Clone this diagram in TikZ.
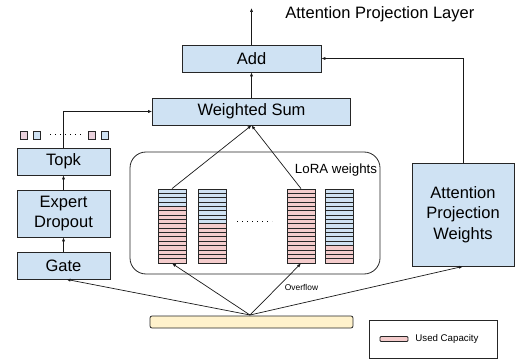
\documentclass[tikz,border=0pt]{standalone}
\usepackage{fontspec}
\setmainfont{Liberation Sans}
\usetikzlibrary{positioning,calc,arrows.meta}

\definecolor{boxblue}{HTML}{CFE2F3}
\definecolor{usedpink}{HTML}{F4CCCC}
\definecolor{tokpink}{HTML}{EAD1DC}
\definecolor{baryellow}{HTML}{FFF2CC}

\tikzset{
  box/.style={draw=black!85, fill=boxblue, inner sep=0pt, align=center,
    font=\fontsize{16.5}{20.5}\selectfont},
  col/.style={draw=black!85, minimum width=28pt, minimum height=74pt, inner sep=0pt},
  arr/.style={-{Latex[length=4pt,width=3.2pt]}, black!90, line width=0.7pt}
}

\begin{document}
\begin{tikzpicture}[x=1pt,y=-1pt,line width=0.8pt]
\useasboundingbox (0,0) rectangle (516,363);

\node[box, minimum width=139pt, minimum height=27pt] (Add) at (251.5,58.5) {Add};
\node[box, minimum width=198pt, minimum height=27pt] (Sum) at (251.5,111.5) {Weighted Sum};
\node[box, minimum width=93pt, minimum height=27pt] (Topk) at (63.5,161.5) {Topk};
\node[box, minimum width=93pt, minimum height=47pt] (Drop) at (63.5,213.5) {Expert\\Dropout};
\node[box, minimum width=93pt, minimum height=27pt] (Gate) at (63.5,265.5) {Gate};
\node[box, minimum width=102pt, minimum height=103pt] (Attn) at (463,214.5) {Attention\\Projection\\Weights};
\node[draw=black!85, rounded corners=16pt, minimum width=250pt, minimum height=122pt] (Lora) at (255,213) {};
\node[draw=black!85, fill=baryellow, rounded corners=2pt, minimum width=203pt, minimum height=12pt, inner sep=0pt] (Inp) at (251.5,322) {};
\node[draw=black!85, minimum width=128pt, minimum height=38pt] (Leg) at (433,339) {};
\node[draw=black!85, fill=usedpink, rounded corners=1pt, minimum width=28pt, minimum height=5pt, inner sep=0pt] (Swatch) at (394,339) {};

\node[anchor=west, inner sep=0pt, font=\fontsize{9.7}{11}\selectfont] (LegText) at (415,339) {Used Capacity};
\node[anchor=west, inner sep=0pt, font=\fontsize{16.5}{20}\selectfont] (Title) at (285,14) {Attention Projection Layer};
\node[font=\fontsize{13.3}{15}\selectfont] (LoraText) at (336,170) {LoRA weights};
\node[font=\fontsize{8.4}{10}\selectfont] (Over) at (301.5,287) {Overflow};

% expert columns, rows from top: blue (free) then pink (used)
\foreach \x/\nb [count=\i] in {172/4, 212.5/8, 301/0, 339/13} {
  \foreach \r in {1,...,17} {
    \ifnum\r>\nb \def\rc{usedpink}\else \def\rc{boxblue}\fi
    \draw[draw=black!85, fill=\rc] ({\x-14},{189+(\r-1)*74/17}) rectangle ({\x+14},{189+\r*74/17});
  }
  \node[col] (C\i) at (\x,226) {};
}
\draw[dotted, line width=1pt, dash pattern=on 1pt off 4pt] (237,222) -- (272,222);

% selected experts
\draw[black!85, fill=tokpink] (20,131) rectangle (27,139);
\draw[black!85, fill=boxblue] (33,131) rectangle (40,139);
\draw[dotted, line width=1pt, dash pattern=on 1pt off 4pt] (50,135) -- (84,135);
\draw[black!85, fill=tokpink] (88,131) rectangle (95,139);
\draw[black!85, fill=boxblue] (101,131) rectangle (108,139);

\coordinate (Out) at (251.5,8);
\coordinate (Src) at (250,315);

\draw[arr] (Add) -- (Out);
\draw[arr] (Sum) -- (Add);
\draw[arr] (Topk.north) |- (Sum.west);
\draw[arr] (Drop) -- (Topk);
\draw[arr] (Gate) -- (Drop);
\draw[arr] (Attn.north) |- (Add.east);
\draw[arr] (C1.north) -- (Sum.south);
\draw[arr] (C3.north) -- (Sum.south);
\draw[arr] (Src) -- ([xshift=3pt]Gate.south);
\draw[arr] (Src) -- (C1.south);
\draw[arr] (Src) -- (C3.south);
\draw[arr] (Src) -- (Attn.south);
\end{tikzpicture}
\end{document}
